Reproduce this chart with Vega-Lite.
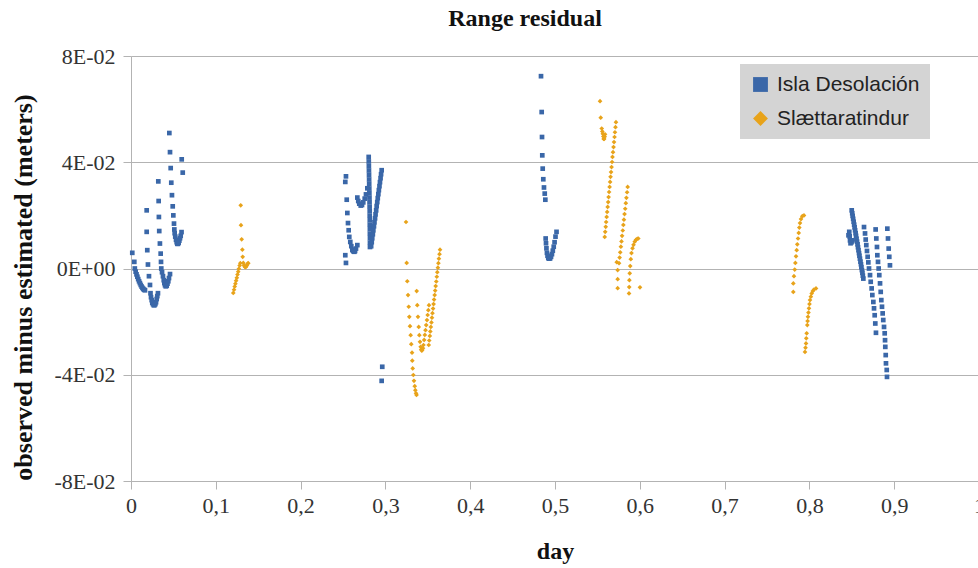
{
  "$schema": "https://vega.github.io/schema/vega-lite/v6.json",
  "width": 848,
  "height": 425,
  "autosize": {"type": "none"},
  "padding": {"left": 131, "top": 56, "right": 0, "bottom": 87},
  "background": "white",
  "title": {"text": "Range residual", "font": "Liberation Serif", "fontSize": 24, "fontWeight": "bold", "color": "#111111", "anchor": "middle", "dx": -30, "offset": 14},
  "config": {"view": {"stroke": null}},
  "encoding": {
    "x": {"field": "day", "type": "quantitative", "scale": {"domain": [0, 1], "nice": false, "zero": false},
      "axis": {"values": [0, 0.1, 0.2, 0.3, 0.4, 0.5, 0.6, 0.7, 0.8, 0.9, 1], "labelExpr": "replace(format(datum.value, '.1~f'), '.', ',')", "title": "day", "grid": false, "domainColor": "#b3b3b3", "tickColor": "#b3b3b3", "tickSize": 8, "labelPadding": 6, "labelFlush": false, "labelOverlap": false, "labelFont": "Liberation Serif", "labelFontSize": 22, "labelColor": "#333333", "titleFont": "Liberation Serif", "titleFontSize": 24, "titleFontWeight": "bold", "titleColor": "#111111", "titleBaseline": "middle", "titleY": 70}},
    "y": {"field": "res", "type": "quantitative", "scale": {"domain": [-0.08, 0.08], "nice": false, "zero": false},
      "axis": {"values": [-0.08, -0.04, 0, 0.04, 0.08], "labelExpr": "datum.value == 0 ? '0E+00' : (datum.value < 0 ? '-' : '') + format(abs(datum.value) * 100, '.0f') + 'E-02'", "title": "observed minus estimated (meters)", "grid": true, "gridColor": "#b3b3b3", "domainColor": "#b3b3b3", "tickColor": "#b3b3b3", "tickSize": 8, "labelPadding": 8, "labelFlush": false, "labelOverlap": false, "labelFont": "Liberation Serif", "labelFontSize": 22, "labelColor": "#333333", "titleFont": "Liberation Serif", "titleFontSize": 26, "titleFontWeight": "bold", "titleColor": "#111111", "titleBaseline": "middle", "titleX": -108, "titleY": 231}}
  },
  "layer": [
    {
      "data": {"values": [
        {"day":0.0015,"res":0.0059},{"day":0.0039,"res":0.0025},{"day":0.0045,"res":0.0000},{"day":0.0055,"res":-0.0012},{"day":0.0065,"res":-0.0022},{"day":0.0075,"res":-0.0031},{"day":0.0085,"res":-0.0040},{"day":0.0095,"res":-0.0048},{"day":0.0105,"res":-0.0055},{"day":0.0115,"res":-0.0062},{"day":0.0125,"res":-0.0068},{"day":0.0135,"res":-0.0073},{"day":0.0145,"res":-0.0077},{"day":0.0155,"res":-0.0080},{"day":0.0165,"res":-0.0082},
        {"day":0.0185,"res":0.0219},{"day":0.0185,"res":0.0138},{"day":0.0192,"res":0.0069},{"day":0.0200,"res":0.0015},{"day":0.0212,"res":-0.0029},{"day":0.0224,"res":-0.0062},{"day":0.0230,"res":-0.0093},{"day":0.0236,"res":-0.0108},{"day":0.0244,"res":-0.0119},{"day":0.0251,"res":-0.0129},{"day":0.0259,"res":-0.0134},{"day":0.0268,"res":-0.0138},{"day":0.0277,"res":-0.0138},{"day":0.0287,"res":-0.0134},{"day":0.0295,"res":-0.0127},{"day":0.0303,"res":-0.0115},{"day":0.0310,"res":-0.0104},{"day":0.0318,"res":-0.0093},
        {"day":0.0322,"res":0.0328},{"day":0.0326,"res":0.0254},{"day":0.0329,"res":0.0194},{"day":0.0333,"res":0.0141},{"day":0.0341,"res":0.0094},{"day":0.0350,"res":0.0056},{"day":0.0354,"res":0.0025},{"day":0.0357,"res":0.0000},{"day":0.0366,"res":-0.0014},{"day":0.0377,"res":-0.0029},{"day":0.0386,"res":-0.0044},{"day":0.0393,"res":-0.0055},{"day":0.0401,"res":-0.0063},{"day":0.0410,"res":-0.0067},{"day":0.0421,"res":-0.0065},{"day":0.0430,"res":-0.0057},{"day":0.0440,"res":-0.0048},{"day":0.0448,"res":-0.0036},{"day":0.0460,"res":-0.0021},
        {"day":0.0452,"res":0.0510},{"day":0.0460,"res":0.0438},{"day":0.0468,"res":0.0378},{"day":0.0475,"res":0.0323},{"day":0.0483,"res":0.0276},{"day":0.0492,"res":0.0234},{"day":0.0499,"res":0.0200},{"day":0.0507,"res":0.0169},{"day":0.0511,"res":0.0147},{"day":0.0515,"res":0.0133},{"day":0.0522,"res":0.0120},{"day":0.0531,"res":0.0108},{"day":0.0539,"res":0.0099},{"day":0.0546,"res":0.0093},{"day":0.0554,"res":0.0093},{"day":0.0562,"res":0.0097},{"day":0.0570,"res":0.0105},{"day":0.0578,"res":0.0114},{"day":0.0586,"res":0.0123},{"day":0.0596,"res":0.0137},
        {"day":0.0598,"res":0.0411},{"day":0.0610,"res":0.0361},
        {"day":0.2535,"res":0.0347},{"day":0.2527,"res":0.0326},{"day":0.2544,"res":0.0259},{"day":0.2551,"res":0.0209},{"day":0.2559,"res":0.0171},{"day":0.2567,"res":0.0144},{"day":0.2574,"res":0.0119},{"day":0.2586,"res":0.0100},{"day":0.2598,"res":0.0084},{"day":0.2610,"res":0.0071},{"day":0.2617,"res":0.0067},{"day":0.2626,"res":0.0064},{"day":0.2634,"res":0.0063},{"day":0.2642,"res":0.0066},{"day":0.2653,"res":0.0075},{"day":0.2669,"res":0.0088},
        {"day":0.2527,"res":0.0050},{"day":0.2535,"res":0.0021},
        {"day":0.2669,"res":0.0267},{"day":0.2680,"res":0.0254},{"day":0.2692,"res":0.0244},{"day":0.2709,"res":0.0237},{"day":0.2724,"res":0.0239},{"day":0.2739,"res":0.0249},{"day":0.2756,"res":0.0263},{"day":0.2771,"res":0.0279},{"day":0.2787,"res":0.0302},
        {"day":0.2803,"res":0.0420},{"day":0.2804,"res":0.0403},{"day":0.2805,"res":0.0386},{"day":0.2806,"res":0.0369},{"day":0.2807,"res":0.0352},{"day":0.2808,"res":0.0335},{"day":0.2809,"res":0.0318},{"day":0.2810,"res":0.0301},{"day":0.2811,"res":0.0284},{"day":0.2812,"res":0.0267},{"day":0.2813,"res":0.0250},{"day":0.2814,"res":0.0233},{"day":0.2815,"res":0.0216},{"day":0.2815,"res":0.0199},{"day":0.2816,"res":0.0182},{"day":0.2816,"res":0.0165},{"day":0.2817,"res":0.0148},{"day":0.2817,"res":0.0131},{"day":0.2818,"res":0.0114},{"day":0.2818,"res":0.0097},{"day":0.2818,"res":0.0081},
        {"day":0.2832,"res":0.0084},{"day":0.2839,"res":0.0099},{"day":0.2845,"res":0.0114},{"day":0.2852,"res":0.0129},{"day":0.2858,"res":0.0144},{"day":0.2865,"res":0.0159},{"day":0.2871,"res":0.0174},{"day":0.2878,"res":0.0189},{"day":0.2884,"res":0.0204},{"day":0.2891,"res":0.0219},{"day":0.2897,"res":0.0235},{"day":0.2904,"res":0.0250},{"day":0.2910,"res":0.0265},{"day":0.2917,"res":0.0280},{"day":0.2923,"res":0.0295},{"day":0.2930,"res":0.0310},{"day":0.2936,"res":0.0325},{"day":0.2943,"res":0.0340},{"day":0.2949,"res":0.0355},{"day":0.2956,"res":0.0370},
        {"day":0.2963,"res":-0.0370},{"day":0.2956,"res":-0.0423},
        {"day":0.4835,"res":0.0724},{"day":0.4843,"res":0.0589},{"day":0.4847,"res":0.0495},{"day":0.4850,"res":0.0426},{"day":0.4855,"res":0.0376},{"day":0.4862,"res":0.0336},{"day":0.4870,"res":0.0305},{"day":0.4879,"res":0.0282},{"day":0.4886,"res":0.0259},
        {"day":0.4890,"res":0.0113},{"day":0.4894,"res":0.0095},{"day":0.4899,"res":0.0076},{"day":0.4905,"res":0.0059},{"day":0.4912,"res":0.0048},{"day":0.4921,"res":0.0039},{"day":0.4932,"res":0.0037},{"day":0.4942,"res":0.0038},{"day":0.4953,"res":0.0044},{"day":0.4964,"res":0.0054},{"day":0.4974,"res":0.0067},{"day":0.4985,"res":0.0082},{"day":0.4995,"res":0.0099},{"day":0.5006,"res":0.0120},{"day":0.5018,"res":0.0138},
        {"day":0.8499,"res":0.0219},{"day":0.8505,"res":0.0208},{"day":0.8510,"res":0.0198},{"day":0.8516,"res":0.0187},{"day":0.8522,"res":0.0176},{"day":0.8528,"res":0.0165},{"day":0.8533,"res":0.0155},{"day":0.8539,"res":0.0144},{"day":0.8545,"res":0.0133},{"day":0.8550,"res":0.0123},{"day":0.8556,"res":0.0112},{"day":0.8562,"res":0.0101},{"day":0.8568,"res":0.0091},{"day":0.8573,"res":0.0080},{"day":0.8579,"res":0.0069},{"day":0.8585,"res":0.0058},{"day":0.8590,"res":0.0048},{"day":0.8596,"res":0.0037},{"day":0.8602,"res":0.0026},{"day":0.8608,"res":0.0016},{"day":0.8613,"res":0.0005},{"day":0.8619,"res":-0.0006},{"day":0.8625,"res":-0.0016},{"day":0.8630,"res":-0.0027},{"day":0.8636,"res":-0.0038},
        {"day":0.8461,"res":0.0125},{"day":0.8470,"res":0.0138},{"day":0.8475,"res":0.0121},{"day":0.8479,"res":0.0106},{"day":0.8485,"res":0.0095},{"day":0.8497,"res":0.0099},{"day":0.8508,"res":0.0106},
        {"day":0.8644,"res":0.0156},{"day":0.8656,"res":0.0132},{"day":0.8664,"res":0.0109},{"day":0.8671,"res":0.0088},{"day":0.8679,"res":0.0066},{"day":0.8687,"res":0.0044},{"day":0.8695,"res":0.0023},{"day":0.8703,"res":0.0000},{"day":0.8715,"res":-0.0025},{"day":0.8723,"res":-0.0050},{"day":0.8734,"res":-0.0075},{"day":0.8742,"res":-0.0100},{"day":0.8754,"res":-0.0126},{"day":0.8762,"res":-0.0150},{"day":0.8770,"res":-0.0176},{"day":0.8777,"res":-0.0207},{"day":0.8785,"res":-0.0242},
        {"day":0.8781,"res":0.0147},{"day":0.8789,"res":0.0113},{"day":0.8797,"res":0.0081},{"day":0.8801,"res":0.0050},{"day":0.8809,"res":0.0025},{"day":0.8817,"res":0.0000},{"day":0.8824,"res":-0.0025},{"day":0.8833,"res":-0.0056},{"day":0.8841,"res":-0.0088},{"day":0.8848,"res":-0.0119},{"day":0.8856,"res":-0.0144},{"day":0.8864,"res":-0.0169},{"day":0.8871,"res":-0.0194},{"day":0.8880,"res":-0.0220},{"day":0.8888,"res":-0.0244},{"day":0.8892,"res":-0.0270},{"day":0.8895,"res":-0.0295},{"day":0.8900,"res":-0.0326},{"day":0.8903,"res":-0.0357},{"day":0.8912,"res":-0.0382},{"day":0.8915,"res":-0.0408},
        {"day":0.8919,"res":0.0150},{"day":0.8927,"res":0.0113},{"day":0.8935,"res":0.0075},{"day":0.8942,"res":0.0044},{"day":0.8950,"res":0.0012}
      ]},
      "mark": {"type": "point", "filled": true, "opacity": 1, "size": 22},
      "encoding": {
        "color": {"datum": "Isla Desolación", "scale": {"domain": ["Isla Desolación", "Slættaratindur"], "range": ["#3a67a8", "#e8a31a"]},
          "legend": {"title": null, "orient": "none", "legendX": 609, "legendY": 8, "padding": 10, "fillColor": "#d4d4d4", "symbolSize": 220, "labelFont": "Liberation Sans", "labelFontSize": 21, "labelColor": "#222222", "labelOffset": 6, "rowPadding": 12, "symbolOpacity": 1}},
        "shape": {"datum": "Isla Desolación", "scale": {"domain": ["Isla Desolación", "Slættaratindur"], "range": ["square", "diamond"]},
          "legend": {"title": null, "orient": "none", "legendX": 609, "legendY": 8, "padding": 10, "fillColor": "#d4d4d4", "symbolSize": 220, "labelFont": "Liberation Sans", "labelFontSize": 21, "labelColor": "#222222", "labelOffset": 6, "rowPadding": 12, "symbolOpacity": 1}}
      }
    },
    {
      "data": {"values": [
        {"day":0.1206,"res":-0.0092},{"day":0.1215,"res":-0.0080},{"day":0.1223,"res":-0.0068},{"day":0.1231,"res":-0.0057},{"day":0.1239,"res":-0.0046},{"day":0.1248,"res":-0.0035},{"day":0.1256,"res":-0.0023},{"day":0.1264,"res":-0.0012},{"day":0.1272,"res":-0.0001},{"day":0.1281,"res":0.0011},{"day":0.1289,"res":0.0020},
        {"day":0.1294,"res":0.0238},{"day":0.1297,"res":0.0163},{"day":0.1305,"res":0.0110},{"day":0.1313,"res":0.0071},{"day":0.1317,"res":0.0044},{"day":0.1324,"res":0.0021},{"day":0.1333,"res":0.0012},{"day":0.1341,"res":0.0007},{"day":0.1349,"res":0.0005},{"day":0.1357,"res":0.0007},{"day":0.1366,"res":0.0012},{"day":0.1374,"res":0.0018},{"day":0.1383,"res":0.0020},
        {"day":0.3243,"res":0.0175},{"day":0.3251,"res":0.0021},{"day":0.3258,"res":-0.0048},{"day":0.3267,"res":-0.0100},{"day":0.3275,"res":-0.0144},{"day":0.3282,"res":-0.0182},{"day":0.3290,"res":-0.0217},{"day":0.3298,"res":-0.0251},{"day":0.3305,"res":-0.0285},{"day":0.3314,"res":-0.0317},{"day":0.3317,"res":-0.0347},{"day":0.3322,"res":-0.0376},{"day":0.3329,"res":-0.0401},{"day":0.3337,"res":-0.0423},{"day":0.3346,"res":-0.0443},{"day":0.3353,"res":-0.0458},{"day":0.3361,"res":-0.0470},{"day":0.3367,"res":-0.0476},
        {"day":0.3369,"res":-0.0085},{"day":0.3376,"res":-0.0138},{"day":0.3384,"res":-0.0182},{"day":0.3393,"res":-0.0220},{"day":0.3400,"res":-0.0251},{"day":0.3408,"res":-0.0276},{"day":0.3416,"res":-0.0295},{"day":0.3422,"res":-0.0305},{"day":0.3428,"res":-0.0309},{"day":0.3435,"res":-0.0307},{"day":0.3443,"res":-0.0300},
        {"day":0.3449,"res":-0.0288},{"day":0.3457,"res":-0.0269},{"day":0.3465,"res":-0.0250},{"day":0.3473,"res":-0.0232},{"day":0.3481,"res":-0.0213},{"day":0.3490,"res":-0.0194},{"day":0.3498,"res":-0.0175},{"day":0.3506,"res":-0.0157},{"day":0.3514,"res":-0.0138},
        {"day":0.3511,"res":-0.0288},{"day":0.3517,"res":-0.0271},{"day":0.3524,"res":-0.0254},{"day":0.3530,"res":-0.0237},{"day":0.3536,"res":-0.0220},{"day":0.3543,"res":-0.0203},{"day":0.3549,"res":-0.0185},{"day":0.3555,"res":-0.0168},{"day":0.3562,"res":-0.0151},{"day":0.3568,"res":-0.0134},{"day":0.3574,"res":-0.0117},{"day":0.3581,"res":-0.0100},{"day":0.3587,"res":-0.0083},{"day":0.3593,"res":-0.0066},{"day":0.3600,"res":-0.0049},{"day":0.3606,"res":-0.0031},{"day":0.3612,"res":-0.0014},{"day":0.3619,"res":0.0003},{"day":0.3625,"res":0.0020},{"day":0.3631,"res":0.0037},{"day":0.3638,"res":0.0054},{"day":0.3644,"res":0.0071},
        {"day":0.5531,"res":0.0630},{"day":0.5539,"res":0.0568},{"day":0.5551,"res":0.0527},{"day":0.5558,"res":0.0516},{"day":0.5564,"res":0.0507},{"day":0.5570,"res":0.0497},{"day":0.5574,"res":0.0488},{"day":0.5580,"res":0.0488},{"day":0.5586,"res":0.0496},{"day":0.5590,"res":0.0505},
        {"day":0.5586,"res":0.0119},{"day":0.5592,"res":0.0138},{"day":0.5598,"res":0.0157},{"day":0.5603,"res":0.0175},{"day":0.5609,"res":0.0194},{"day":0.5615,"res":0.0213},{"day":0.5621,"res":0.0232},{"day":0.5627,"res":0.0250},{"day":0.5632,"res":0.0269},{"day":0.5638,"res":0.0288},{"day":0.5644,"res":0.0307},{"day":0.5650,"res":0.0326},{"day":0.5655,"res":0.0345},{"day":0.5661,"res":0.0363},{"day":0.5667,"res":0.0382},{"day":0.5673,"res":0.0401},{"day":0.5678,"res":0.0420},{"day":0.5684,"res":0.0438},{"day":0.5690,"res":0.0457},{"day":0.5696,"res":0.0476},{"day":0.5702,"res":0.0495},{"day":0.5707,"res":0.0513},{"day":0.5713,"res":0.0532},{"day":0.5719,"res":0.0551},
        {"day":0.5728,"res":0.0024},{"day":0.5739,"res":-0.0006},{"day":0.5739,"res":-0.0040},{"day":0.5739,"res":-0.0074},
        {"day":0.5755,"res":0.0020},{"day":0.5762,"res":0.0041},{"day":0.5769,"res":0.0061},{"day":0.5777,"res":0.0082},{"day":0.5784,"res":0.0102},{"day":0.5791,"res":0.0123},{"day":0.5799,"res":0.0143},{"day":0.5806,"res":0.0164},{"day":0.5813,"res":0.0184},{"day":0.5820,"res":0.0205},{"day":0.5828,"res":0.0225},{"day":0.5835,"res":0.0246},{"day":0.5842,"res":0.0266},{"day":0.5850,"res":0.0287},{"day":0.5857,"res":0.0307},
        {"day":0.5873,"res":-0.0094},{"day":0.5875,"res":-0.0070},{"day":0.5877,"res":-0.0044},{"day":0.5881,"res":-0.0018},{"day":0.5887,"res":0.0009},{"day":0.5894,"res":0.0035},{"day":0.5902,"res":0.0058},{"day":0.5914,"res":0.0076},{"day":0.5926,"res":0.0089},{"day":0.5940,"res":0.0101},{"day":0.5955,"res":0.0108},{"day":0.5970,"res":0.0112},{"day":0.5982,"res":0.0113},
        {"day":0.6002,"res":-0.0071},
        {"day":0.7810,"res":-0.0088},{"day":0.7810,"res":-0.0056},{"day":0.7818,"res":-0.0029},{"day":0.7827,"res":-0.0004},{"day":0.7834,"res":0.0021},{"day":0.7842,"res":0.0046},{"day":0.7850,"res":0.0069},{"day":0.7857,"res":0.0091},{"day":0.7866,"res":0.0113},{"day":0.7874,"res":0.0134},{"day":0.7881,"res":0.0154},{"day":0.7889,"res":0.0171},{"day":0.7901,"res":0.0186},{"day":0.7916,"res":0.0197},{"day":0.7936,"res":0.0200},
        {"day":0.7948,"res":-0.0314},{"day":0.7954,"res":-0.0298},{"day":0.7960,"res":-0.0282},{"day":0.7963,"res":-0.0263},{"day":0.7968,"res":-0.0244},{"day":0.7975,"res":-0.0213},{"day":0.7979,"res":-0.0198},{"day":0.7983,"res":-0.0182},{"day":0.7989,"res":-0.0166},{"day":0.7995,"res":-0.0150},{"day":0.8001,"res":-0.0134},{"day":0.8007,"res":-0.0119},{"day":0.8017,"res":-0.0106},{"day":0.8027,"res":-0.0094},{"day":0.8040,"res":-0.0085},{"day":0.8054,"res":-0.0079},{"day":0.8078,"res":-0.0075}
      ]},
      "mark": {"type": "point", "filled": true, "opacity": 1, "size": 22},
      "encoding": {
        "color": {"datum": "Slættaratindur"},
        "shape": {"datum": "Slættaratindur"}
      }
    }
  ]
}
